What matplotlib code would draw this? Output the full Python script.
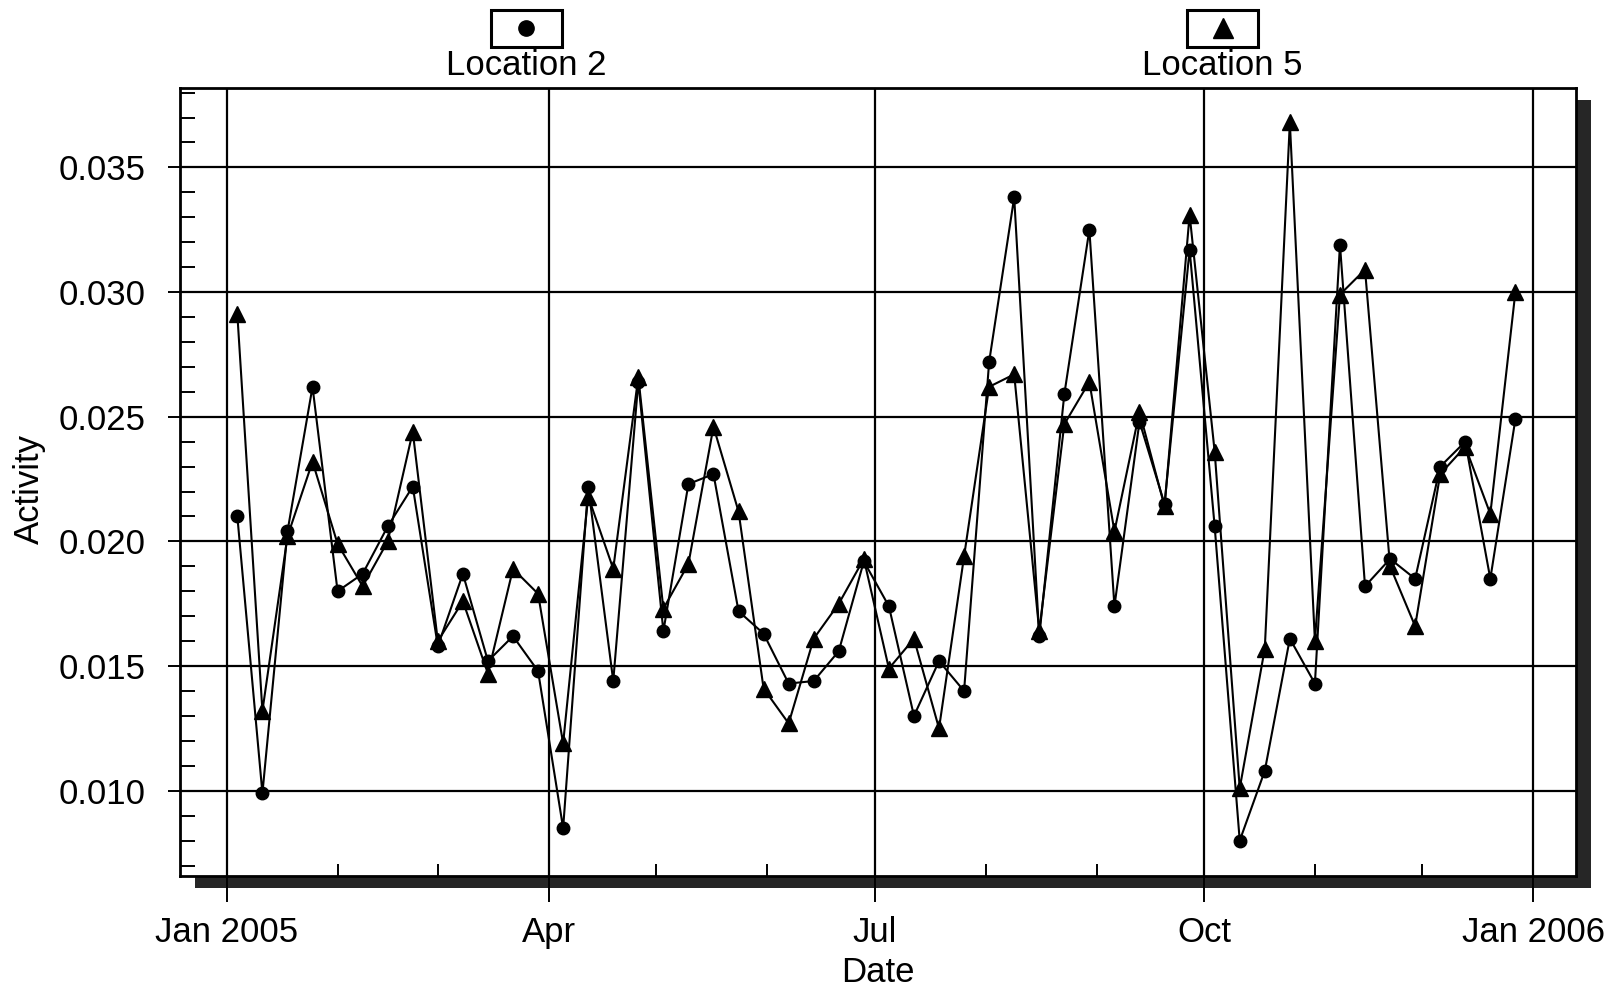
# import packages
import numpy as np
import pandas as pd
import matplotlib
matplotlib.use("Agg")
from matplotlib import pyplot as plt
from matplotlib import dates as mdates
from matplotlib.patches import Rectangle
from matplotlib.lines import Line2D

# ======================data======================
dates = pd.date_range("2005-01-04", periods=52, freq="7D")

location2 = [0.0210, 0.0099, 0.0204, 0.0262, 0.0180, 0.0187, 0.0206, 0.0222,
             0.0158, 0.0187, 0.0152, 0.0162, 0.0148, 0.0085, 0.0222, 0.0144,
             0.0264, 0.0164, 0.0223, 0.0227, 0.0172, 0.0163, 0.0143, 0.0144,
             0.0156, 0.0192, 0.0174, 0.0130, 0.0152, 0.0140, 0.0272, 0.0338,
             0.0162, 0.0259, 0.0325, 0.0174, 0.0248, 0.0215, 0.0317, 0.0206,
             0.0080, 0.0108, 0.0161, 0.0143, 0.0319, 0.0182, 0.0193, 0.0185,
             0.0230, 0.0240, 0.0185, 0.0249]

location5 = [0.0291, 0.0132, 0.0202, 0.0232, 0.0199, 0.0182, 0.0200, 0.0244,
             0.0160, 0.0176, 0.0147, 0.0189, 0.0179, 0.0119, 0.0218, 0.0189,
             0.0266, 0.0173, 0.0191, 0.0246, 0.0212, 0.0141, 0.0127, 0.0161,
             0.0175, 0.0193, 0.0149, 0.0161, 0.0125, 0.0194, 0.0262, 0.0267,
             0.0164, 0.0247, 0.0264, 0.0204, 0.0252, 0.0214, 0.0331, 0.0236,
             0.0101, 0.0157, 0.0368, 0.0160, 0.0299, 0.0309, 0.0190, 0.0166,
             0.0227, 0.0238, 0.0211, 0.0300]

quarter_ticks = pd.to_datetime(["2005-01-01", "2005-04-01", "2005-07-01",
                                "2005-10-01", "2006-01-01"])
quarter_labels = ["Jan 2005", "Apr", "Jul", "Oct", "Jan 2006"]
y_ticks = [0.010, 0.015, 0.020, 0.025, 0.030, 0.035]

# ======================plot======================
plt.rcParams["font.family"] = ["Liberation Sans", "DejaVu Sans"]
FS = 25

fig = plt.figure(figsize=(16.15, 9.93), dpi=100)
ax_rect = [0.1115, 0.1183, 0.8645, 0.7935]
ax = fig.add_axes(ax_rect)

# drop shadow of the frame
shadow = Rectangle((ax_rect[0] + 0.009, ax_rect[1] - 0.013), ax_rect[2], ax_rect[3],
                   transform=fig.transFigure, facecolor="#262626", edgecolor="none",
                   zorder=-1)
fig.add_artist(shadow)

ax.plot(dates, location2, color="black", lw=1.5, marker="o", ms=9, zorder=3)
ax.plot(dates, location5, color="black", lw=1.5, marker="^", ms=11, zorder=3)

ax.set_xlim(pd.Timestamp("2004-12-19"), pd.Timestamp("2006-01-13"))
ax.set_ylim(0.0066, 0.0382)

ax.set_xticks(quarter_ticks)
ax.set_xticklabels(quarter_labels)
ax.xaxis.set_minor_locator(mdates.MonthLocator())
ax.set_yticks(y_ticks)
ax.set_yticklabels(["%.3f" % v for v in y_ticks])
ax.yaxis.set_minor_locator(matplotlib.ticker.MultipleLocator(0.001))

ax.tick_params(axis="x", which="major", direction="out", length=19, width=1.4,
               labelsize=FS, pad=10)
ax.tick_params(axis="x", which="minor", direction="in", length=9, width=1.4)
ax.tick_params(axis="y", which="major", direction="out", length=9, width=1.4,
               labelsize=FS, pad=16)
ax.tick_params(axis="y", which="minor", direction="in", length=11, width=1.4)

ax.grid(which="major", color="black", lw=1.6)
for s in ax.spines.values():
    s.set_linewidth(2.0)

ax.set_xlabel("Date", fontsize=FS)
ax.set_ylabel("Activity", fontsize=FS)
ax.xaxis.set_label_coords(0.5, -0.102)
ax.yaxis.set_label_coords(-0.096, 0.49)

# legend boxes on top
for cx, mk, ms, lab in [(0.326, "o", 11, "Location 2"), (0.757, "^", 14, "Location 5")]:
    fig.add_artist(Rectangle((cx - 0.022, 0.953), 0.044, 0.037, transform=fig.transFigure,
                             facecolor="white", edgecolor="black", lw=2.2))
    fig.add_artist(Line2D([cx], [0.9715], transform=fig.transFigure, marker=mk,
                          ms=ms, color="black", ls="none"))
    fig.text(cx, 0.934, lab, fontsize=FS, ha="center", va="center")

plt.savefig("out.png", dpi=100)
